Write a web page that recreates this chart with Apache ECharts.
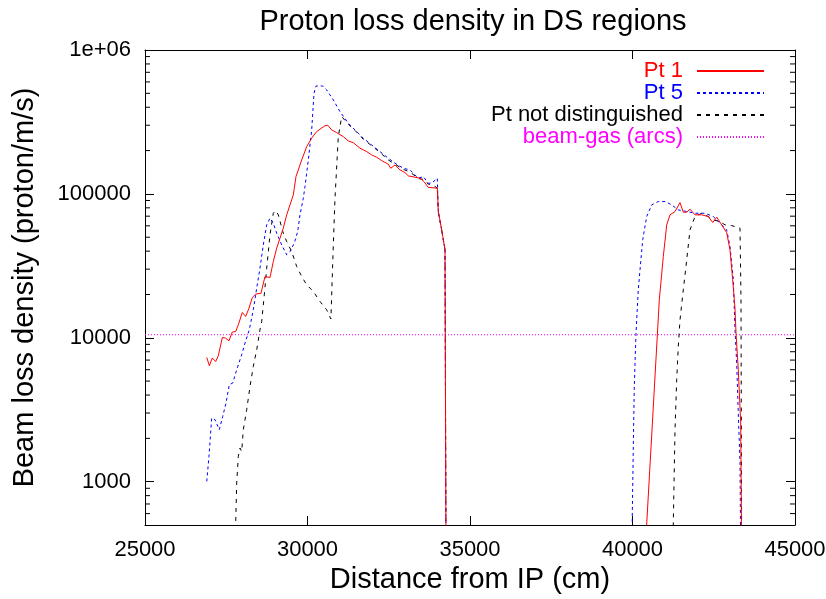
<!DOCTYPE html>
<html>
<head>
<meta charset="utf-8">
<script src="https://cdn.jsdelivr.net/npm/echarts@6/dist/echarts.min.js"></script>
<style>
html,body{margin:0;padding:0;background:#fff;}
#c{width:826px;height:599px;}
</style>
</head>
<body>
<div id="c"></div>
<script>
// Values below the axis minimum (300) mark where curves leave the plot through the bottom.
const titleText = 'Proton loss density in DS regions';
const xName = 'Distance from IP (cm)';
const yName = 'Beam loss density (proton/m/s)';
const seriesNames = ['Pt 1', 'Pt 5', 'Pt not distinguished', 'beam-gas (arcs)'];

const pt1 = [
 [26900,7300],[26980,6400],[27070,7230],[27175,6840],[27255,7500],[27380,10050],[27480,9950],
 [27585,9530],[27686,10960],[27791,11070],[27871,12300],[27994,14990],[28098,14060],[28200,16070],
 [28302,19050],[28406,20100],[28569,20420],[28692,26650],[28745,27380],[28846,26240],[28948,33880],
 [29052,41980],[29154,49230],[29255,57790],[29360,71500],[29462,83900],[29563,98400],[29646,131900],
 [29822,172200],[29975,213100],[30129,243800],[30283,271000],[30538,298000],[30622,300000],
 [30745,278300],[30899,266600],[31102,250000],[31255,233300],[31409,227000],[31615,207600],
 [31822,196700],[31975,186600],[32129,179800],[32283,170300],[32486,160800],[32560,150700],
 [32692,158900],[32846,146800],[33000,140600],[33102,133400],[33308,130600],[33462,128500],
 [33585,121700],[33715,111000],[33994,109600],[34025,75400],[34129,56230],[34231,40840],
 [34262,300],[40380,300],[40825,18370],[40948,36700],[41052,60900],[41154,71500],[41308,75400],
 [41462,87000],[41563,74600],[41668,74600],[41769,78300],[41923,71500],[42129,71500],[42332,69600],
 [42468,63200],[42591,68900],[42745,60900],[42898,53800],[43000,40840],[43083,25300],[43154,16000],
 [43185,10780],[43255,5995],[43329,2557],[43360,300]
];

const pt5 = [
 [26900,1005],[26969,1500],[27052,2770],[27154,2697],[27286,2297],[27391,2840],[27492,3520],
 [27594,4720],[27698,4845],[27822,6000],[27975,7620],[28077,9190],[28209,11370],[28332,15640],
 [28437,22130],[28538,30480],[28640,44230],[28745,60900],[28846,67800],[28948,62600],[29052,53300],
 [29206,44230],[29360,37700],[29462,39720],[29594,45460],[29698,54700],[29769,71500],[29871,93350],
 [29923,112400],[30025,172200],[30129,278300],[30200,500300],[30262,562300],[30468,562300],
 [30591,527600],[30794,449800],[31000,373100],[31255,309700],[31462,278300],[31717,243800],
 [31975,218800],[32231,196700],[32486,177000],[32692,163400],[32948,150700],[33154,146800],
 [33409,128500],[33563,131900],[33717,118700],[33822,118700],[33994,128500],[34025,75000],
 [34129,56000],[34231,41000],[34262,300],[39985,300],[39994,607],[40025,1758],[40055,4590],
 [40108,10780],[40178,21540],[40231,29650],[40314,47960],[40437,69550],[40591,83900],[40794,88470],
 [41000,88470],[41206,83900],[41409,77430],[41668,75400],[41923,73400],[42231,73400],[42486,69550],
 [42692,62600],[42898,56230],[43000,43050],[43102,25300],[43154,11370],[43206,6670],[43255,3000],
 [43308,1349],[43330,300]
];

const ptNd = [
 [27765,300],[27822,980],[27871,1500],[27923,1714],[27975,1622],[28025,2297],[28129,3162],
 [28231,4590],[28332,6320],[28437,8250],[28538,11370],[28590,12980],[28671,19900],[28745,30480],
 [28846,51900],[28948,73400],[29022,76600],[29102,71500],[29185,60900],[29255,53300],[29360,46650],
 [29514,39720],[29668,31260],[29822,26650],[29975,23330],[30178,20990],[30385,17870],[30591,15640],
 [30720,13500],[30794,44230],[30846,93350],[30948,250000],[31052,344400],[31255,305000],
 [31462,276000],[31717,240000],[31975,216000],[32231,194000],[32486,172000],[32692,161000],
 [32948,148000],[33154,142000],[33409,128000],[33563,126000],[33717,117000],[33822,116000],
 [33994,110000],[34025,75000],[34129,56000],[34231,41000],[34262,300],[41236,300],[41308,2297],
 [41360,5110],[41409,8710],[41462,13340],[41563,21540],[41668,34800],[41769,56230],[41923,69550],
 [42129,73400],[42332,69550],[42486,65950],[42692,64200],[42846,60900],[43052,60200],[43308,57790],
 [43338,18370],[43360,300]
];

const beamGas = [[25000,10500],[45000,10500]];

const xMin = 25000, xMax = 45000, xStep = 5000;
const yMin = 500, yMax = 1000000;
const yTickLabels = ['1000','10000','100000','1e+06'];
const yMinorTicks = [600,700,800,900,2000,3000,4000,5000,6000,7000,8000,9000,
  20000,30000,40000,50000,60000,70000,80000,90000,200000,300000,400000,500000,600000,700000,800000,900000];

const colors = ['#ff0000','#0000ff','#000000','#ff00ff'];
const font = 'Liberation Sans, Arial, Helvetica, sans-serif';

const chart = echarts.init(document.getElementById('c'), null, {renderer:'canvas'});

function yFmt(v){
  const e = Math.log10(v);
  if (Math.abs(e - Math.round(e)) > 1e-6) return '';
  const r = Math.round(e);
  if (r < 3 || r > 6) return '';
  return yTickLabels[r-3];
}

const axisCommonX = {
  type:'value', min:xMin, max:xMax, interval:xStep,
  axisLine:{show:true, onZero:false, lineStyle:{color:'#000', width:1}},
  axisTick:{show:true, inside:true, length:9, lineStyle:{color:'#000'}},
  splitLine:{show:false}
};
const axisCommonY = {
  type:'log', logBase:10, min:yMin, max:yMax,
  axisLine:{show:true, onZero:false, lineStyle:{color:'#000', width:1}},
  axisTick:{show:true, inside:true, length:9, lineStyle:{color:'#000'}},
  minorTick:{show:false},
  splitLine:{show:false}
};

function mk(name, data, color, type, z){
  return {
    name, type:'line', data, xAxisIndex:0, yAxisIndex:0,
    symbol:'none', showSymbol:false, clip:true, z:z,
    lineStyle:{color, width:1, type},
    itemStyle:{color},
    animation:false
  };
}

const minorTickSeries = {
  type:'custom', silent:true, clip:false, z:5,
  data: yMinorTicks.map(v => [xMin, v]),
  renderItem: function(params, api){
    const v = api.value(1);
    const pL = api.coord([xMin, v]);
    const pR = api.coord([xMax, v]);
    const st = {stroke:'#000', lineWidth:1};
    return {type:'group', children:[
      {type:'line', shape:{x1:pL[0], y1:pL[1], x2:pL[0]+5, y2:pL[1]}, style:st},
      {type:'line', shape:{x1:pR[0], y1:pR[1], x2:pR[0]-5, y2:pR[1]}, style:st}
    ]};
  },
  encode:{x:0, y:1},
  tooltip:{show:false}
};

chart.setOption({
  backgroundColor:'#fff',
  animation:false,
  title:{
    text:titleText, left:468, top:2, textAlign:'center',
    textStyle:{fontFamily:font, fontSize:29, fontWeight:'normal', color:'#000'}
  },
  grid:{left:145, right:31, top:50, bottom:74, containLabel:false, outerBoundsMode:'none'},
  legend:{
    orient:'vertical', right:56, top:55, align:'right',
    itemWidth:67, itemHeight:14, itemGap:0,
    selectedMode:false,
    itemStyle:{opacity:0},
    textStyle:{fontFamily:font, fontSize:22, lineHeight:22, padding:[0,9,0,0]},
    data:seriesNames.map((n,i)=>({name:n, textStyle:{color:colors[i]}}))
  },
  xAxis:[
    Object.assign({}, axisCommonX, {
      position:'bottom',
      name:xName, nameLocation:'middle', nameGap:40,
      nameTextStyle:{fontFamily:font, fontSize:29, color:'#000'},
      axisLabel:{fontFamily:font, fontSize:22, color:'#000', margin:14, formatter:(v)=>String(v)}
    }),
    Object.assign({}, axisCommonX, {position:'top', axisLabel:{show:false}})
  ],
  yAxis:[
    Object.assign({}, axisCommonY, {
      position:'left',
      name:yName, nameLocation:'middle', nameGap:106, nameRotate:90,
      nameTextStyle:{fontFamily:font, fontSize:29, color:'#000'},
      axisLabel:{fontFamily:font, fontSize:22, color:'#000', margin:14, formatter:yFmt, showMinLabel:false}
    }),
    Object.assign({}, axisCommonY, {position:'right', axisLabel:{show:false}})
  ],
  series:[
    mk(seriesNames[3], beamGas, colors[3], [1,2], 1),
    mk(seriesNames[2], ptNd, colors[2], [4,5], 2),
    mk(seriesNames[1], pt5, colors[1], [3,3], 3),
    mk(seriesNames[0], pt1, colors[0], 'solid', 4),
    minorTickSeries
  ]
});
</script>
</body>
</html>
